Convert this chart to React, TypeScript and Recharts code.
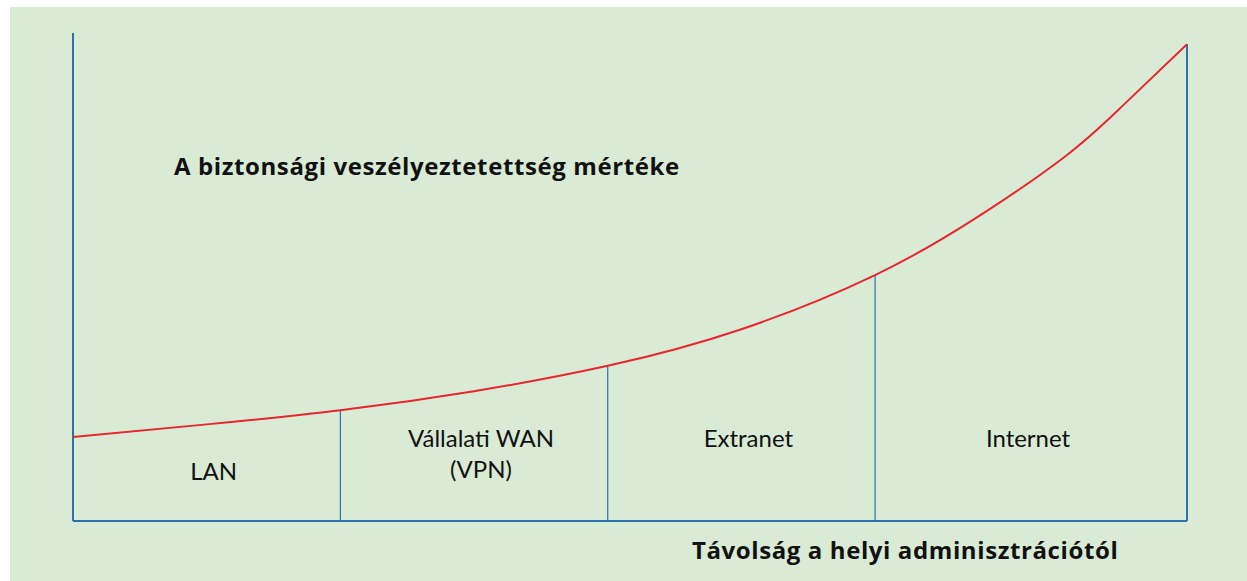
import { LineChart, Line, XAxis, YAxis, ReferenceLine, ReferenceArea } from "recharts";

// distance (0–100) vs. security exposure (0–100)
const distance = [0, 12, 24, 36, 48, 60, 72, 81, 89, 94, 100];
const exposure = [17.2, 19.8, 22.7, 26.6, 31.8, 39.3, 50.4, 62.0, 74.6, 84.6, 97.7];

const zoneNames = [["LAN"], ["Vállalati WAN", "(VPN)"], ["Extranet"], ["Internet"]];
const zoneBounds = [0, 24, 48, 72, 100];
const zoneTopValues = [17.2, 22.7, 31.8, 50.4, 97.7];

const yTitle = "A biztonsági veszélyeztetettség mértéke";
const xTitle = "Távolság a helyi adminisztrációtól";

const data = distance.map((d, i) => ({ d, v: exposure[i] }));

const BLUE = "#2a72ad";
const RED = "#e8262d";
const FONT = "Lato, 'Open Sans', sans-serif";
const BOLD_FONT = "'Open Sans', Lato, sans-serif";

function zoneLabel(lines: string[], idx: number) {
  return (props: any) => {
    const vb = props.viewBox || {};
    const cx = vb.x + vb.width / 2 + (idx < 3 ? 7 : -3);
    const bottom = vb.y + vb.height;
    // single-line LAN sits lower than the others
    const firstBase = idx === 0 ? bottom - 41 : bottom - 74;
    return (
      <text textAnchor="middle" fontFamily={FONT} fontSize={24} fill="#111">
        {lines.map((ln, k) => (
          <tspan key={k} x={cx} y={firstBase + k * 31}>
            {ln}
          </tspan>
        ))}
      </text>
    );
  };
}

const titleStyle = {
  position: "absolute" as const,
  fontFamily: BOLD_FONT,
  fontWeight: 700,
  fontSize: 24,
  letterSpacing: 0.6,
  color: "#111",
  whiteSpace: "nowrap" as const,
  lineHeight: "normal",
};

export default function App() {
  return (
    <div
      style={{
        position: "absolute",
        left: 10,
        top: 7,
        width: 1237,
        height: 574,
        background: "#d9ebd4",
      }}
    >
      <LineChart
        width={1237}
        height={574}
        data={data}
        margin={{ top: 26, right: 60, left: 63, bottom: 60 }}
      >
        <XAxis dataKey="d" type="number" domain={[0, 100]} hide />
        <YAxis type="number" domain={[0, 100]} hide />

        {zoneNames.map((lines, i) => (
          <ReferenceArea
            key={i}
            x1={zoneBounds[i]}
            x2={zoneBounds[i + 1]}
            y1={0}
            y2={10}
            fill="none"
            stroke="none"
            label={{ content: zoneLabel(lines, i) }}
          />
        ))}

        <ReferenceLine
          segment={[{ x: 0, y: 0 }, { x: 0, y: 100 }]}
          stroke={BLUE}
          strokeWidth={2}
        />
        <ReferenceLine
          segment={[{ x: 0, y: 0 }, { x: 100, y: 0 }]}
          stroke={BLUE}
          strokeWidth={2}
        />
        {zoneBounds.slice(1).map((b, i) => (
          <ReferenceLine
            key={b}
            segment={[{ x: b, y: 0 }, { x: b, y: zoneTopValues[i + 1] }]}
            stroke={BLUE}
            strokeWidth={b === 100 ? 2 : 1.2}
          />
        ))}

        <Line
          type="natural"
          dataKey="v"
          stroke={RED}
          strokeWidth={2}
          dot={false}
          isAnimationActive={false}
        />
      </LineChart>
      <div style={{ ...titleStyle, left: 164, top: 142 }}>{yTitle}</div>
      <div style={{ ...titleStyle, left: 682, top: 526 }}>{xTitle}</div>
    </div>
  );
}
